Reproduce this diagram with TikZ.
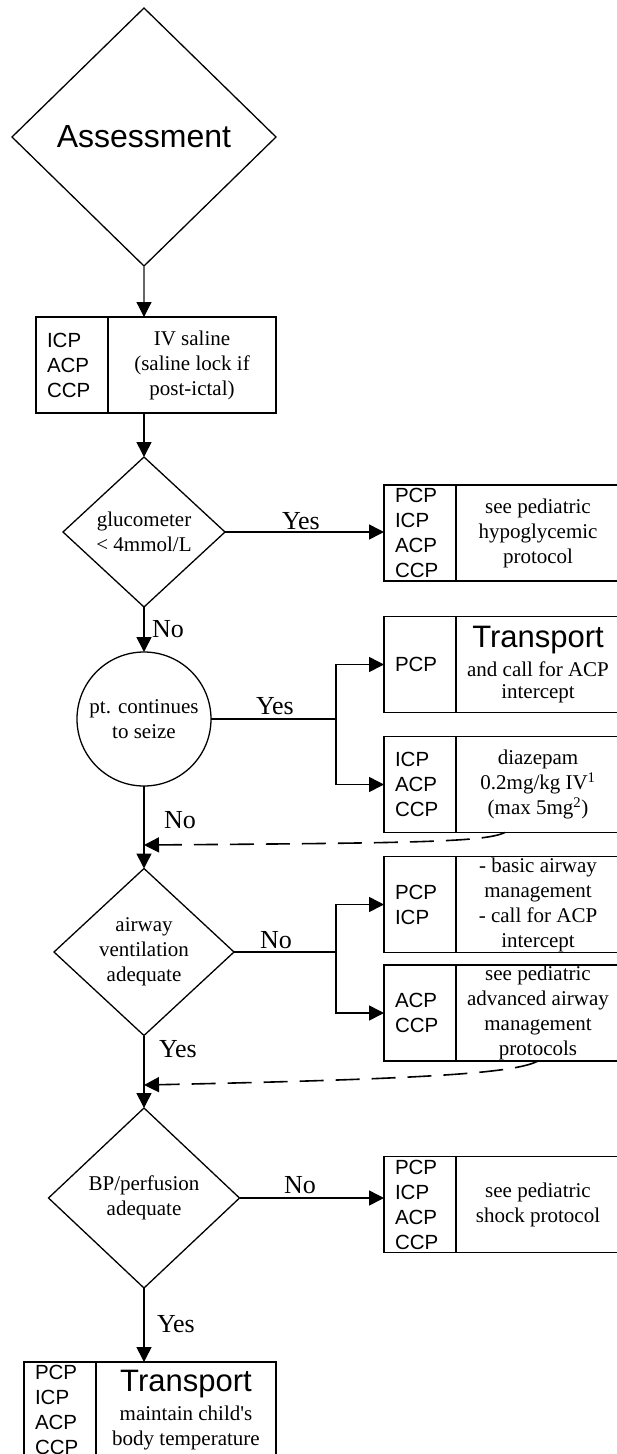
\documentclass[tikz,border=0pt]{standalone}
\usepackage{fontspec}
\setmainfont{Liberation Serif}
\newfontfamily\arial{Liberation Sans}
\usetikzlibrary{shapes.geometric,arrows.meta}

\begin{document}
\begin{tikzpicture}[x=1pt,y=-1pt,
  every node/.style={inner sep=0pt, outer sep=0pt},
  line/.style={line width=1.6pt},
  arr/.style={line, -{Triangle[length=15pt,width=15pt]}},
  dsh/.style={arr, dash pattern=on 24pt off 12pt},
  decision/.style={draw, line width=1.3pt, diamond, align=center,
    font=\fontsize{21}{25}\selectfont},
  roles/.style={draw, line width=1.8pt, rectangle, minimum width=72pt,
    minimum height=96pt, text width=50pt, align=left,
    font=\arial\fontsize{20.5}{25}\selectfont},
  action/.style={draw, line width=1.8pt, rectangle, minimum height=96pt,
    align=center, font=\fontsize{21}{25}\selectfont},
  lab/.style={anchor=base west, font=\fontsize{26}{26}\selectfont},
  big/.style={font=\arial\fontsize{31}{31}\selectfont},
]
\useasboundingbox (0,0) rectangle (617,1454);
\fill[white] (0,0) rectangle (617,1454);

% decisions and steps
\node[decision, minimum width=264pt, minimum height=258pt,
  font=\arial\fontsize{32}{32}\selectfont] (assess) at (144,137) {Assessment};

\node[roles] (ivl) at (72,365) {ICP\\ACP\\CCP};
\node[action, minimum width=168pt] (ivr) at (192,365) {IV saline\\(saline lock if\\post-ictal)};

\node[decision, minimum width=162pt, minimum height=150pt] (gluc) at (144,532)
  {glucometer\\< 4mmol/L};

\node[roles] (hypl) at (420,533) {PCP\\ICP\\ACP\\CCP};
\node[action, minimum width=164pt] (hypr) at (538,533) {see pediatric\\hypoglycemic\\protocol};

\node[draw, circle, line width=1.3pt, minimum size=134pt, align=center,
  font=\fontsize{21}{25}\selectfont] (seize) at (144,719) {pt. continues\\to seize};

\node[roles] (trl) at (420,664.5) {PCP};
\node[action, minimum width=164pt, font=\fontsize{21}{22.5}\selectfont] (trr) at (538,664.5)
  {{\arial\fontsize{31}{31}\selectfont Transport}\\[6.5pt]and call for ACP\\intercept};

\node[roles] (dzl) at (420,784.5) {ICP\\ACP\\CCP};
\node[action, minimum width=164pt] (dzr) at (538,784.5)
  {diazepam\\0.2mg/kg IV\textsuperscript{1}\\(max 5mg\textsuperscript{2})};

\node[decision, minimum width=180pt, minimum height=167pt] (vent) at (144,952)
  {airway\\ventilation\\adequate};

\node[roles] (airAl) at (420,904.5) {PCP\\ICP};
\node[action, minimum width=164pt] (airAr) at (538,904.5)
  {- basic airway\\management\\- call for ACP\\intercept};

\node[roles] (airBl) at (420,1013) {ACP\\CCP};
\node[action, minimum width=164pt] (airBr) at (538,1013)
  {see pediatric\\advanced airway\\management\\protocols};

\node[decision, minimum width=191pt, minimum height=180pt] (bp) at (144,1198)
  {BP/perfusion\\adequate};

\node[roles] (shl) at (420,1204.5) {PCP\\ICP\\ACP\\CCP};
\node[action, minimum width=164pt] (shr) at (538,1204.5) {see pediatric\\shock protocol};

\node[roles] (finl) at (60,1410) {PCP\\ICP\\ACP\\CCP};
\node[action, minimum width=180pt] (finr) at (186,1410)
  {{\arial\fontsize{31}{31}\selectfont Transport}\\[4pt]maintain child\textquotesingle s\\body temperature};

% connectors
\draw[line width=1.2pt, draw=black!60, -{Triangle[length=15pt,width=15pt,color=black]}]
  (assess.south) -- (assess.south |- ivr.north);
\draw[arr] (gluc.north |- ivr.south) -- (gluc.north);
\draw[arr] (gluc.east) -- (gluc.east -| hypl.west);
\draw[arr] (gluc.south) -- (seize.north);

\coordinate (br1) at (336,719);
\draw[line] (seize.east) -- (br1);
\draw[arr] (br1) |- (trl.west);
\draw[arr] (br1) |- (dzl.west);
\draw[arr] (seize.south) -- (vent.north);
\coordinate (m1) at (144,845);
\draw[dsh] ([xshift=49pt]dzr.south west) .. controls (484,842) and (420,843) .. (m1);

\coordinate (br2) at (336,952);
\draw[line] (vent.east) -- (br2);
\draw[arr] (br2) |- (airAl.west);
\draw[arr] (br2) |- (airBl.west);
\draw[arr] (vent.south) -- (bp.north);
\coordinate (m2) at (144,1085);
\draw[dsh] ([xshift=82pt]airBr.south west) .. controls (515,1073) and (430,1079) .. (m2);

\draw[arr] (bp.east) -- (bp.east -| shl.west);
\draw[arr] (bp.south) -- (bp.south |- finr.north);

% branch labels
\node[lab] (gy) at (282,529) {Yes};
\node[lab] (gn) at (152,637) {No};
\node[lab] (sy) at (256,714) {Yes};
\node[lab] (sn) at (164,828) {No};
\node[lab] (vn) at (260,948) {No};
\node[lab] (vy) at (159,1057) {Yes};
\node[lab] (bn) at (284,1193) {No};
\node[lab] (by) at (157,1332) {Yes};
\end{tikzpicture}
\end{document}
